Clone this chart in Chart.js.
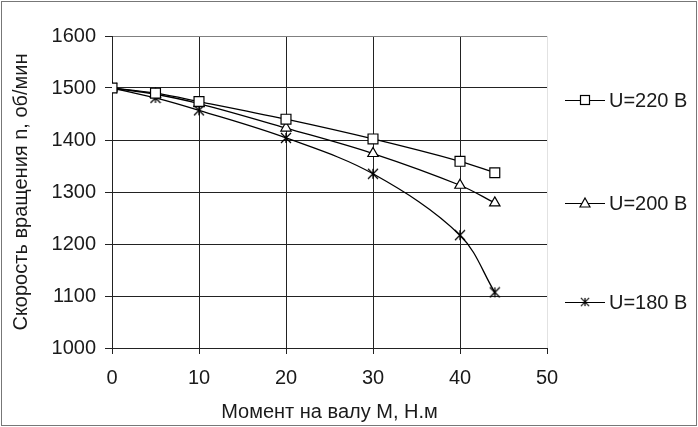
<!DOCTYPE html>
<html>
<head>
<meta charset="utf-8">
<script src="https://cdn.jsdelivr.net/npm/chart.js@4"></script>
<style>
  html, body { margin: 0; padding: 0; background: #fff; }
  #wrap { width: 698px; height: 427px; }
</style>
</head>
<body>
<div id="wrap"><canvas id="speedChart" width="698" height="427"></canvas></div>
<script>
    // Data
    const torque = [0, 5, 10, 20, 30, 40, 44];
    const speed220 = [1500, 1490, 1474, 1440, 1402, 1359, 1337];
    const speed200 = [1500, 1488, 1470, 1423, 1374, 1313, 1279];
    const speed180 = [1500, 1481, 1457, 1404, 1335, 1217, 1107];
    const seriesNames = ['U=220 В', 'U=200 В', 'U=180 В'];
    const xTicks = [0, 10, 20, 30, 40, 50];
    const yTicks = [1000, 1100, 1200, 1300, 1400, 1500, 1600];

    const FONT = "'Liberation Sans', Arial, sans-serif";
    const TEXT = '#1a1a1a';

    // X with a vertical bar, like the Excel star marker
    function makeStar(size) {
      const c = document.createElement('canvas');
      c.width = size; c.height = size;
      const g = c.getContext('2d');
      g.strokeStyle = '#000';
      g.lineWidth = 1.3;
      g.beginPath();
      g.moveTo(1, 1); g.lineTo(size - 1, size - 1);
      g.moveTo(size - 1, 1); g.lineTo(1, size - 1);
      g.moveTo(size / 2, 1); g.lineTo(size / 2, size - 1);
      g.stroke();
      return c;
    }
    const starImg = makeStar(12);

    const styles = ['rect', 'triangle', starImg];
    const radii = [7, 6, 6];

    function toPoints(values) {
      return torque.map((t, i) => ({ x: t, y: values[i] }));
    }

    // Legend on the right, one entry per row, plus the outer frame
    const sideLegend = {
      id: 'sideLegend',
      afterDraw(chart) {
        const ctx = chart.ctx;
        const area = chart.chartArea;
        const rows = [100, 203, 302];
        ctx.save();
        ctx.strokeStyle = '#777';
        ctx.lineWidth = 1;
        ctx.strokeRect(1.5, 1.5, chart.width - 3, chart.height - 3);

        const x0 = area.right + 18;
        chart.data.datasets.forEach((ds, i) => {
          const y = rows[i];
          ctx.strokeStyle = '#000';
          ctx.lineWidth = 1.2;
          ctx.beginPath();
          ctx.moveTo(x0, y + 0.5);
          ctx.lineTo(x0 + 40, y + 0.5);
          ctx.stroke();
          const st = styles[i];
          if (st === 'rect') {
            ctx.fillStyle = '#fff';
            ctx.fillRect(x0 + 15.5, y - 4.5, 9, 9);
            ctx.strokeRect(x0 + 15.5, y - 4.5, 9, 9);
          } else if (st === 'triangle') {
            ctx.fillStyle = '#fff';
            ctx.beginPath();
            ctx.moveTo(x0 + 20, y - 5);
            ctx.lineTo(x0 + 25, y + 4);
            ctx.lineTo(x0 + 15, y + 4);
            ctx.closePath();
            ctx.fill();
            ctx.stroke();
          } else {
            ctx.drawImage(starImg, x0 + 15, y - 5, 10, 10);
          }
          ctx.fillStyle = TEXT;
          ctx.font = '20px ' + FONT;
          ctx.textBaseline = 'middle';
          ctx.textAlign = 'left';
          ctx.fillText(ds.label, x0 + 44, y + 1);
        });
        ctx.restore();
      }
    };

    const datasets = [speed220, speed200, speed180].map((vals, i) => ({
      label: seriesNames[i],
      data: toPoints(vals),
      borderColor: '#000',
      borderWidth: 1.3,
      backgroundColor: '#fff',
      pointStyle: styles[i],
      pointRadius: radii[i],
      pointBorderColor: '#000',
      pointBorderWidth: 1.2,
      pointBackgroundColor: '#fff',
      tension: 0.35,
      fill: false
    }));

    new Chart(document.getElementById('speedChart').getContext('2d'), {
      type: 'line',
      data: { datasets: datasets },
      plugins: [sideLegend],
      options: {
        responsive: false,
        animation: false,
        layout: { padding: { left: 0, right: 151, top: 36, bottom: 0 } },
        plugins: {
          legend: { display: false },
          tooltip: { enabled: false }
        },
        scales: {
          x: {
            type: 'linear',
            min: 0,
            max: 50,
            afterBuildTicks: (scale) => { scale.ticks = xTicks.map(v => ({ value: v })); },
            afterFit: (scale) => { scale.height = 79; },
            grid: {
              color: (c) => (c.tick && c.tick.value === 50 ? '#e2e2e2' : '#222'),
              tickColor: '#222',
              tickLength: 6,
              lineWidth: 1
            },
            border: { color: '#222', width: 1 },
            ticks: {
              color: TEXT,
              padding: 12,
              maxRotation: 0,
              font: { family: FONT, size: 20 },
              callback: (v) => String(v)
            },
            title: {
              display: true,
              text: 'Момент на валу М, Н.м',
              color: TEXT,
              padding: { top: 0, bottom: 3 },
              font: { family: FONT, size: 20 }
            }
          },
          y: {
            type: 'linear',
            min: 1000,
            max: 1600,
            afterBuildTicks: (scale) => { scale.ticks = yTicks.map(v => ({ value: v })); },
            afterFit: (scale) => { scale.width = 112; },
            grid: {
              color: (c) => (c.tick && c.tick.value === 1600 ? '#808080' : '#222'),
              tickColor: '#222',
              tickLength: 7,
              lineWidth: 1
            },
            border: { color: '#222', width: 1 },
            ticks: {
              color: TEXT,
              padding: 9,
              font: { family: FONT, size: 20 },
              callback: (v) => String(v)
            },
            title: {
              display: true,
              text: 'Скорость вращения n, об/мин',
              color: TEXT,
              padding: { top: 9, bottom: 0 },
              font: { family: FONT, size: 20 }
            }
          }
        }
      }
    });
</script>
</body>
</html>
